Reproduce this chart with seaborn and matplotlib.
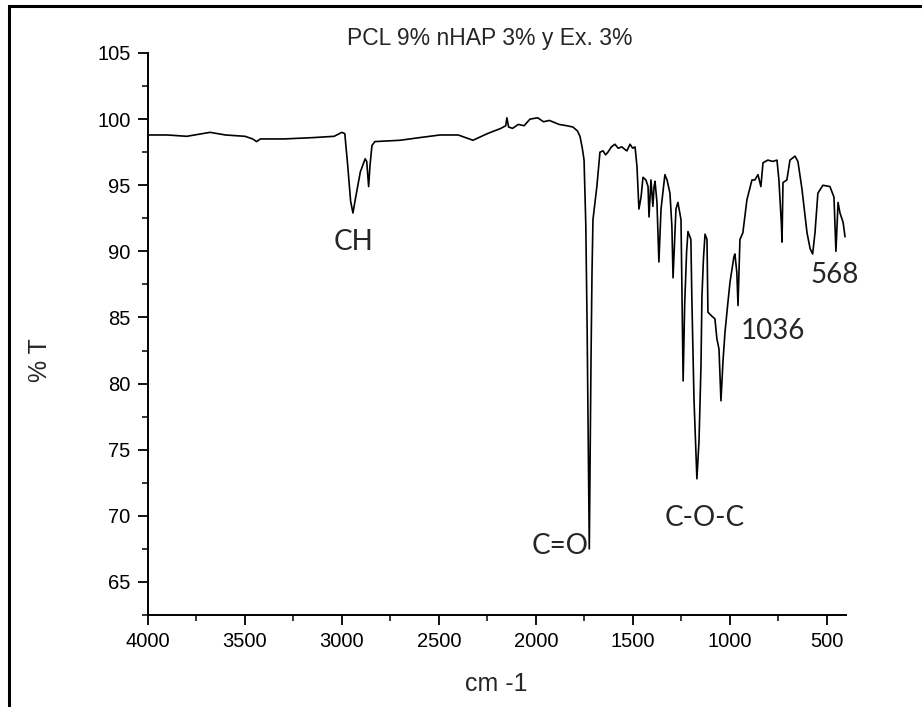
import numpy as np
import pandas as pd
import matplotlib
matplotlib.use('Agg')
import matplotlib.pyplot as plt
from matplotlib.patches import Rectangle
from matplotlib.ticker import MultipleLocator
import seaborn as sns

# FTIR spectrum (wavenumber cm-1, % transmittance)
wavenumber = [4000, 3900, 3800, 3680, 3600, 3500, 3460, 3440, 3420, 3300,
              3150, 3040, 3000, 2985, 2970, 2955, 2943, 2930, 2905, 2880,
              2872, 2862, 2855, 2845, 2830, 2700, 2600, 2494, 2400, 2324,
              2250, 2180, 2155, 2149, 2140, 2120, 2090, 2060, 2030, 1990,
              1960, 1930, 1880, 1840, 1808, 1785, 1772, 1760, 1751, 1742,
              1735, 1728, 1724, 1720, 1715, 1710, 1705, 1685, 1669, 1653,
              1640, 1628, 1610, 1592, 1575, 1556, 1540, 1530, 1514, 1500,
              1488, 1478, 1468, 1457, 1447, 1432, 1421, 1416, 1406, 1396,
              1390, 1385, 1375, 1365, 1354, 1334, 1323, 1308, 1298, 1292,
              1277, 1267, 1251, 1245, 1240, 1232, 1222, 1215, 1200, 1195,
              1184, 1169, 1158, 1148, 1143, 1135, 1127, 1117, 1112, 1092,
              1076, 1066, 1055, 1045, 1034, 1024, 1010, 998, 978, 973,
              963, 957, 947, 932, 911, 885, 870, 854, 839, 828,
              803, 777, 756, 746, 733, 730, 725, 705, 689, 663,
              648, 627, 601, 585, 572, 560, 545, 519, 483, 462,
              452, 441, 431, 415, 405]
transmittance = [98.8, 98.8, 98.7, 99.0, 98.8, 98.7, 98.5, 98.3, 98.5, 98.5,
                 98.6, 98.7, 99.0, 98.9, 96.5, 93.8, 92.9, 94.0, 96.0, 97.0,
                 96.8, 94.9, 96.5, 98.0, 98.3, 98.4, 98.6, 98.8, 98.8, 98.4,
                 98.9, 99.3, 99.5, 100.1, 99.4, 99.3, 99.6, 99.5, 100.0, 100.1,
                 99.8, 99.9, 99.6, 99.5, 99.4, 99.1, 98.7, 97.8, 96.9, 92.0,
                 84.0, 74.0, 67.5, 74.0, 82.0, 88.4, 92.4, 94.9, 97.5, 97.6,
                 97.3, 97.5, 97.9, 98.1, 97.8, 97.9, 97.7, 97.6, 98.1, 97.8,
                 97.9, 96.4, 93.2, 94.1, 95.6, 95.4, 94.9, 92.6, 95.4, 93.4,
                 94.9, 95.3, 93.7, 89.2, 93.2, 95.8, 95.4, 94.4, 91.9, 88.0,
                 93.2, 93.7, 92.4, 86.0, 80.2, 86.0, 90.0, 91.5, 90.9, 86.4,
                 78.8, 72.8, 75.7, 81.3, 86.6, 89.5, 91.3, 90.9, 85.4, 85.1,
                 84.9, 83.4, 82.6, 78.7, 81.8, 83.9, 86.0, 87.7, 89.6, 89.8,
                 88.4, 85.9, 90.9, 91.4, 93.9, 95.4, 95.4, 95.8, 94.9, 96.7,
                 96.9, 96.8, 96.9, 95.4, 92.0, 90.7, 95.2, 95.4, 96.9, 97.2,
                 96.8, 94.7, 91.4, 90.2, 89.8, 91.4, 94.4, 95.0, 94.9, 94.1,
                 90.0, 93.7, 92.9, 92.2, 91.1]

# band labels
band_names = ['CH', 'C=O', 'C-O-C', '1036', '568']
band_x = [2940, 1875, 1127, 777, 457]
band_y = [90.7, 67.7, 69.8, 84.0, 88.2]

df = pd.DataFrame({'cm -1': wavenumber, '% T': transmittance})

sns.set_style('ticks')
plt.rcParams['font.family'] = ['Liberation Sans', 'DejaVu Sans']

fig = plt.figure(figsize=(9.22, 7.07), dpi=100)
ax = fig.add_axes([148 / 922, 1 - 615 / 707, 698 / 922, 562 / 707])

sns.lineplot(data=df, x='cm -1', y='% T', sort=False, color='black',
             linewidth=1.2, ax=ax)

ax.set_xlim(4000, 400)
ax.set_ylim(62.5, 105)
ax.xaxis.set_major_locator(MultipleLocator(500))
ax.xaxis.set_minor_locator(MultipleLocator(250))
ax.yaxis.set_major_locator(MultipleLocator(5))
ax.yaxis.set_minor_locator(MultipleLocator(2.5))
ax.tick_params(which='major', direction='out', length=7.5, width=1.3,
               labelsize=14.5, pad=5, colors='black')
ax.tick_params(which='minor', direction='out', length=4, width=1.3)
sns.despine(ax=ax)
for s in ['left', 'bottom']:
    ax.spines[s].set_linewidth(1.4)
    ax.spines[s].set_color('black')

ax.set_xlabel('')
ax.set_ylabel('')
fig.text(496 / 922, 1 - 684 / 707, 'cm -1', fontsize=18,
         ha='center', va='center')
fig.text(40 / 922, 1 - 360 / 707, '% T', fontsize=18, rotation=90,
         ha='center', va='center')

fig.text(490 / 922, 1 - 38 / 707, 'PCL 9% nHAP 3% y Ex. 3%', fontsize=16.5,
         ha='center', va='center')

for name, x, y in zip(band_names, band_x, band_y):
    ax.text(x, y, name, fontsize=20, family=['Lato', 'DejaVu Sans'],
            ha='center', va='center')

# frame around the picture, cut off at the right and bottom
fig.patches.append(Rectangle((9 / 922, -0.1), 1.2, 1.1 - 6 / 707,
                             transform=fig.transFigure, fill=False,
                             edgecolor='black', linewidth=2.2))

fig.savefig('out.png', dpi=100, facecolor='white')
